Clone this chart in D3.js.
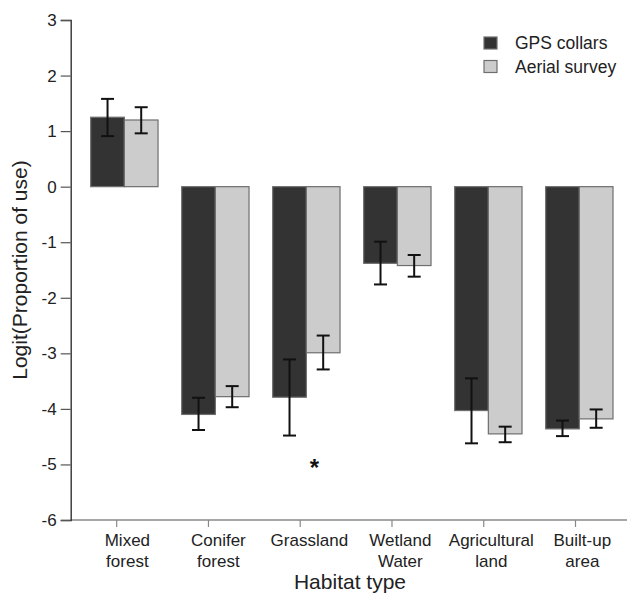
<!DOCTYPE html>
<html>
<head>
<meta charset="utf-8">
<script src="https://cdn.jsdelivr.net/npm/d3@7"></script>
<style>
body{margin:0;background:#fff;}
text{font-family:'Liberation Sans',Arial,sans-serif;fill:#222;}
</style>
</head>
<body>
<div class="chart"></div>
<script>
//Data
const habitats = ['Mixed forest','Conifer forest','Grassland','Wetland Water','Agricultural land','Built-up area'];
const habitatLines = [['Mixed','forest'],['Conifer','forest'],['Grassland'],['Wetland','Water'],['Agricultural','land'],['Built-up','area']];
const seriesNames = ['GPS collars','Aerial survey'];
const gpsValues = [1.25, -4.10, -3.79, -1.38, -4.03, -4.36];
const gpsLow = [0.91, -4.38, -4.48, -1.76, -4.62, -4.49];
const gpsHigh = [1.58, -3.80, -3.11, -0.99, -3.45, -4.21];
const aerialValues = [1.20, -3.78, -2.99, -1.42, -4.45, -4.18];
const aerialLow = [0.96, -3.97, -3.29, -1.62, -4.60, -4.34];
const aerialHigh = [1.43, -3.59, -2.68, -1.23, -4.32, -4.01];
const yTicks = [3, 2, 1, 0, -1, -2, -3, -4, -5, -6];
const sigIndex = 2; // '*' under grassland

const colors = ['#333333','#cccccc'];

const rows = [];
habitats.forEach((h,i)=>{
    rows.push({habitat:h, series:seriesNames[0], value:gpsValues[i], lo:gpsLow[i], hi:gpsHigh[i]});
    rows.push({habitat:h, series:seriesNames[1], value:aerialValues[i], lo:aerialLow[i], hi:aerialHigh[i]});
});

const svg_width = 627;
const svg_height = 594;
const svg = d3.select('.chart').append('svg')
    .attr('width', svg_width).attr('height', svg_height);

//scale
const yScale = d3.scaleLinear().domain([-6, 3]).range([520, 20]);
const xScale = d3.scaleBand().domain(habitats).range([90.7, 613]).paddingInner(0.26).paddingOuter(0);
const xSub = d3.scaleBand().domain(seriesNames).range([0, xScale.bandwidth()]);
// ticks on the original sit a few px left of the bar groups
const xTick = d3.scalePoint().domain(habitats).range([116.7, 575.5]);

//x axis line + ticks
const axisX = 70.7;
svg.append('line').attr('x1', axisX).attr('x2', svg_width).attr('y1', yScale(-6)).attr('y2', yScale(-6))
    .style('stroke','#888').style('stroke-width',1.6);
svg.append('g').selectAll('line').data(habitats).join('line')
    .attr('x1', d=>xTick(d)).attr('x2', d=>xTick(d))
    .attr('y1', yScale(-6)).attr('y2', yScale(-6)+7)
    .style('stroke','#888').style('stroke-width',1.2);

//x labels
svg.append('g').selectAll('text').data(habitats).join('text')
    .attr('text-anchor','middle').style('font-size','17px')
    .each(function(d,i){
        const cx = xScale(d) + xScale.bandwidth()/2 + 3;
        d3.select(this).selectAll('tspan').data(habitatLines[i]).join('tspan')
            .attr('x', cx).attr('y', (t,j)=>546 + j*21).text(t=>t);
    });

svg.append('text').attr('x', 350).attr('y', 589).attr('text-anchor','middle')
    .style('font-size','21px').text('Habitat type');

//y axis
const yAxis = d3.axisLeft(yScale).tickValues(yTicks).tickSize(10).tickPadding(4).tickFormat(d3.format('d'));
const yAxisDraw = svg.append('g').attr('transform', `translate(${axisX},0)`).call(yAxis);
yAxisDraw.select('.domain').style('stroke','#333').style('stroke-width',1.4);
yAxisDraw.selectAll('.tick line').style('stroke','#555').style('stroke-width',1.2);
yAxisDraw.selectAll('.tick text').style('font-size','17px').style('font-family',"'Liberation Sans',Arial,sans-serif").style('fill','#222')
    .text(d=> d < 0 ? '-' + Math.abs(d) : d);

svg.append('text').attr('transform', `translate(27,270) rotate(-90)`).attr('text-anchor','middle')
    .style('font-size','21px').text('Logit(Proportion of use)');

//bars
const bars = svg.append('g').attr('class','bars');
bars.selectAll('.bar').data(rows).join('rect').attr('class','bar')
    .attr('x', d=>xScale(d.habitat) + xSub(d.series))
    .attr('y', d=>yScale(Math.max(0, d.value)))
    .attr('width', xSub.bandwidth())
    .attr('height', d=>Math.abs(yScale(d.value) - yScale(0)))
    .style('fill', d=>colors[seriesNames.indexOf(d.series)])
    .style('stroke','#6e6e6e').style('stroke-width',1.2);

//error bars
const errs = svg.append('g').attr('class','errs');
const capW = 13;
const errX = d=>xScale(d.habitat) + xSub(d.series) + xSub.bandwidth()/2;
errs.selectAll('.whisker').data(rows).join('line')
    .attr('x1', errX).attr('x2', errX)
    .attr('y1', d=>yScale(d.lo)).attr('y2', d=>yScale(d.hi))
    .style('stroke','#111').style('stroke-width',2);
['lo','hi'].forEach(k=>{
    errs.selectAll('.cap-'+k).data(rows).join('line').attr('class','cap-'+k)
        .attr('x1', d=>errX(d)-capW/2).attr('x2', d=>errX(d)+capW/2)
        .attr('y1', d=>yScale(d[k])).attr('y2', d=>yScale(d[k]))
        .style('stroke','#111').style('stroke-width',2);
});

//significance star
svg.append('text')
    .attr('x', xScale(habitats[sigIndex]) + xScale.bandwidth()/2 + 8)
    .attr('y', yScale(-5) + 12)
    .attr('text-anchor','middle').style('font-size','24px').style('font-weight','bold').style('fill','#111')
    .text('*');

//legend
const legend = svg.append('g').attr('transform','translate(484,37)');
const items = legend.selectAll('g').data(seriesNames).join('g')
    .attr('transform', (d,i)=>`translate(0,${i*23.5})`);
items.append('rect').attr('width',13).attr('height',12)
    .style('fill', (d,i)=>colors[i]).style('stroke','#6e6e6e').style('stroke-width',1.2);
items.append('text').attr('x',31).attr('y',12).style('font-size','17.5px').text(d=>d);
</script>
</body>
</html>
